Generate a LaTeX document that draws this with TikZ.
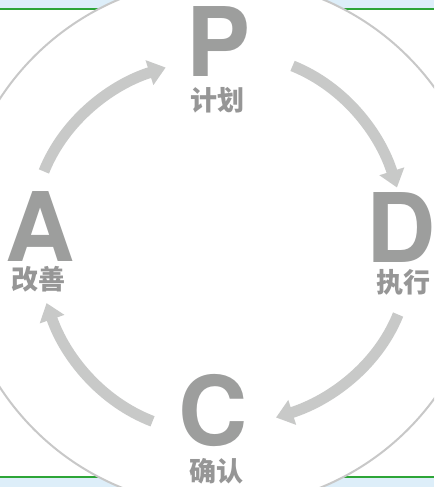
\documentclass[tikz,border=0pt]{standalone}
\usepackage{fontspec}
\newfontfamily\letterfont{TeX Gyre Heros}
\newfontfamily\cjk{Noto Sans CJK SC}
\usetikzlibrary{arrows.meta,calc}
\definecolor{bandblue}{RGB}{221,238,249}
\definecolor{bandgreen}{RGB}{45,165,55}
\definecolor{ringgray}{RGB}{200,200,200}
\definecolor{arrowgray}{RGB}{200,201,200}
\definecolor{lettergray}{RGB}{157,158,157}
\definecolor{labelgray}{RGB}{150,150,150}
\begin{document}
\begin{tikzpicture}[x=1pt,y=1pt,
  letter/.style={inner sep=0pt, anchor=base, text=lettergray, font=\letterfont\bfseries\fontsize{96}{96}\selectfont},
  phaselabel/.style={inner sep=0pt, text=labelgray, font=\cjk\bfseries\fontsize{27}{27}\selectfont},
  cyclearrow/.style={draw=arrowgray, line width=11pt, -{Triangle[length=17pt,width=25pt]}, looseness=0.9}
]
\useasboundingbox (0,0) rectangle (434,487);
\clip (0,0) rectangle (434,487);
% background bands
\fill[bandblue] (0,478) rectangle (434,487);
\draw[bandgreen, line width=1.5pt] (0,478) -- (434,478);
\fill[bandblue] (0,0) rectangle (434,10);
\draw[bandgreen, line width=1.5pt] (0,10) -- (434,10);
% ring
\coordinate (O) at (221,244);
\draw[ringgray, line width=2pt, fill=white] (O) circle[radius=264];
% letters
\node[letter] (P) at (219,410) {P};
\node[letter] (A) at (40.5,225) {A};
\node[letter] (D) at (401,224) {D};
\node[letter] (C) at (213,41) {C};
% labels
\node[phaselabel] (Pl) at (217,387) {计划};
\node[phaselabel] (Al) at (38.5,208) {改善};
\node[phaselabel] (Dl) at (403,205) {执行};
\node[phaselabel] (Cl) at (216.5,15.5) {确认};
% arrows
\coordinate (a1s) at ($(O)+(158:191)$);
\coordinate (a1e) at ($(O)+(107.5:184)$);
\coordinate (a2s) at ($(O)+(68:191)$);
\coordinate (a2e) at ($(O)+(17.5:184.5)$);
\coordinate (a3s) at ($(O)+(-22:191)$);
\coordinate (a3e) at ($(O)+(-72.5:183)$);
\coordinate (a4s) at ($(O)+(-111:191)$);
\coordinate (a4e) at ($(O)+(-161:184.5)$);
\draw[cyclearrow] (a1s) to[out=68, in=197.5] (a1e);
\draw[cyclearrow] (a2s) to[out=-22, in=107.5] (a2e);
\draw[cyclearrow] (a3s) to[out=-112, in=17.5] (a3e);
\draw[cyclearrow] (a4s) to[out=159, in=-71] (a4e);
\end{tikzpicture}
\end{document}
